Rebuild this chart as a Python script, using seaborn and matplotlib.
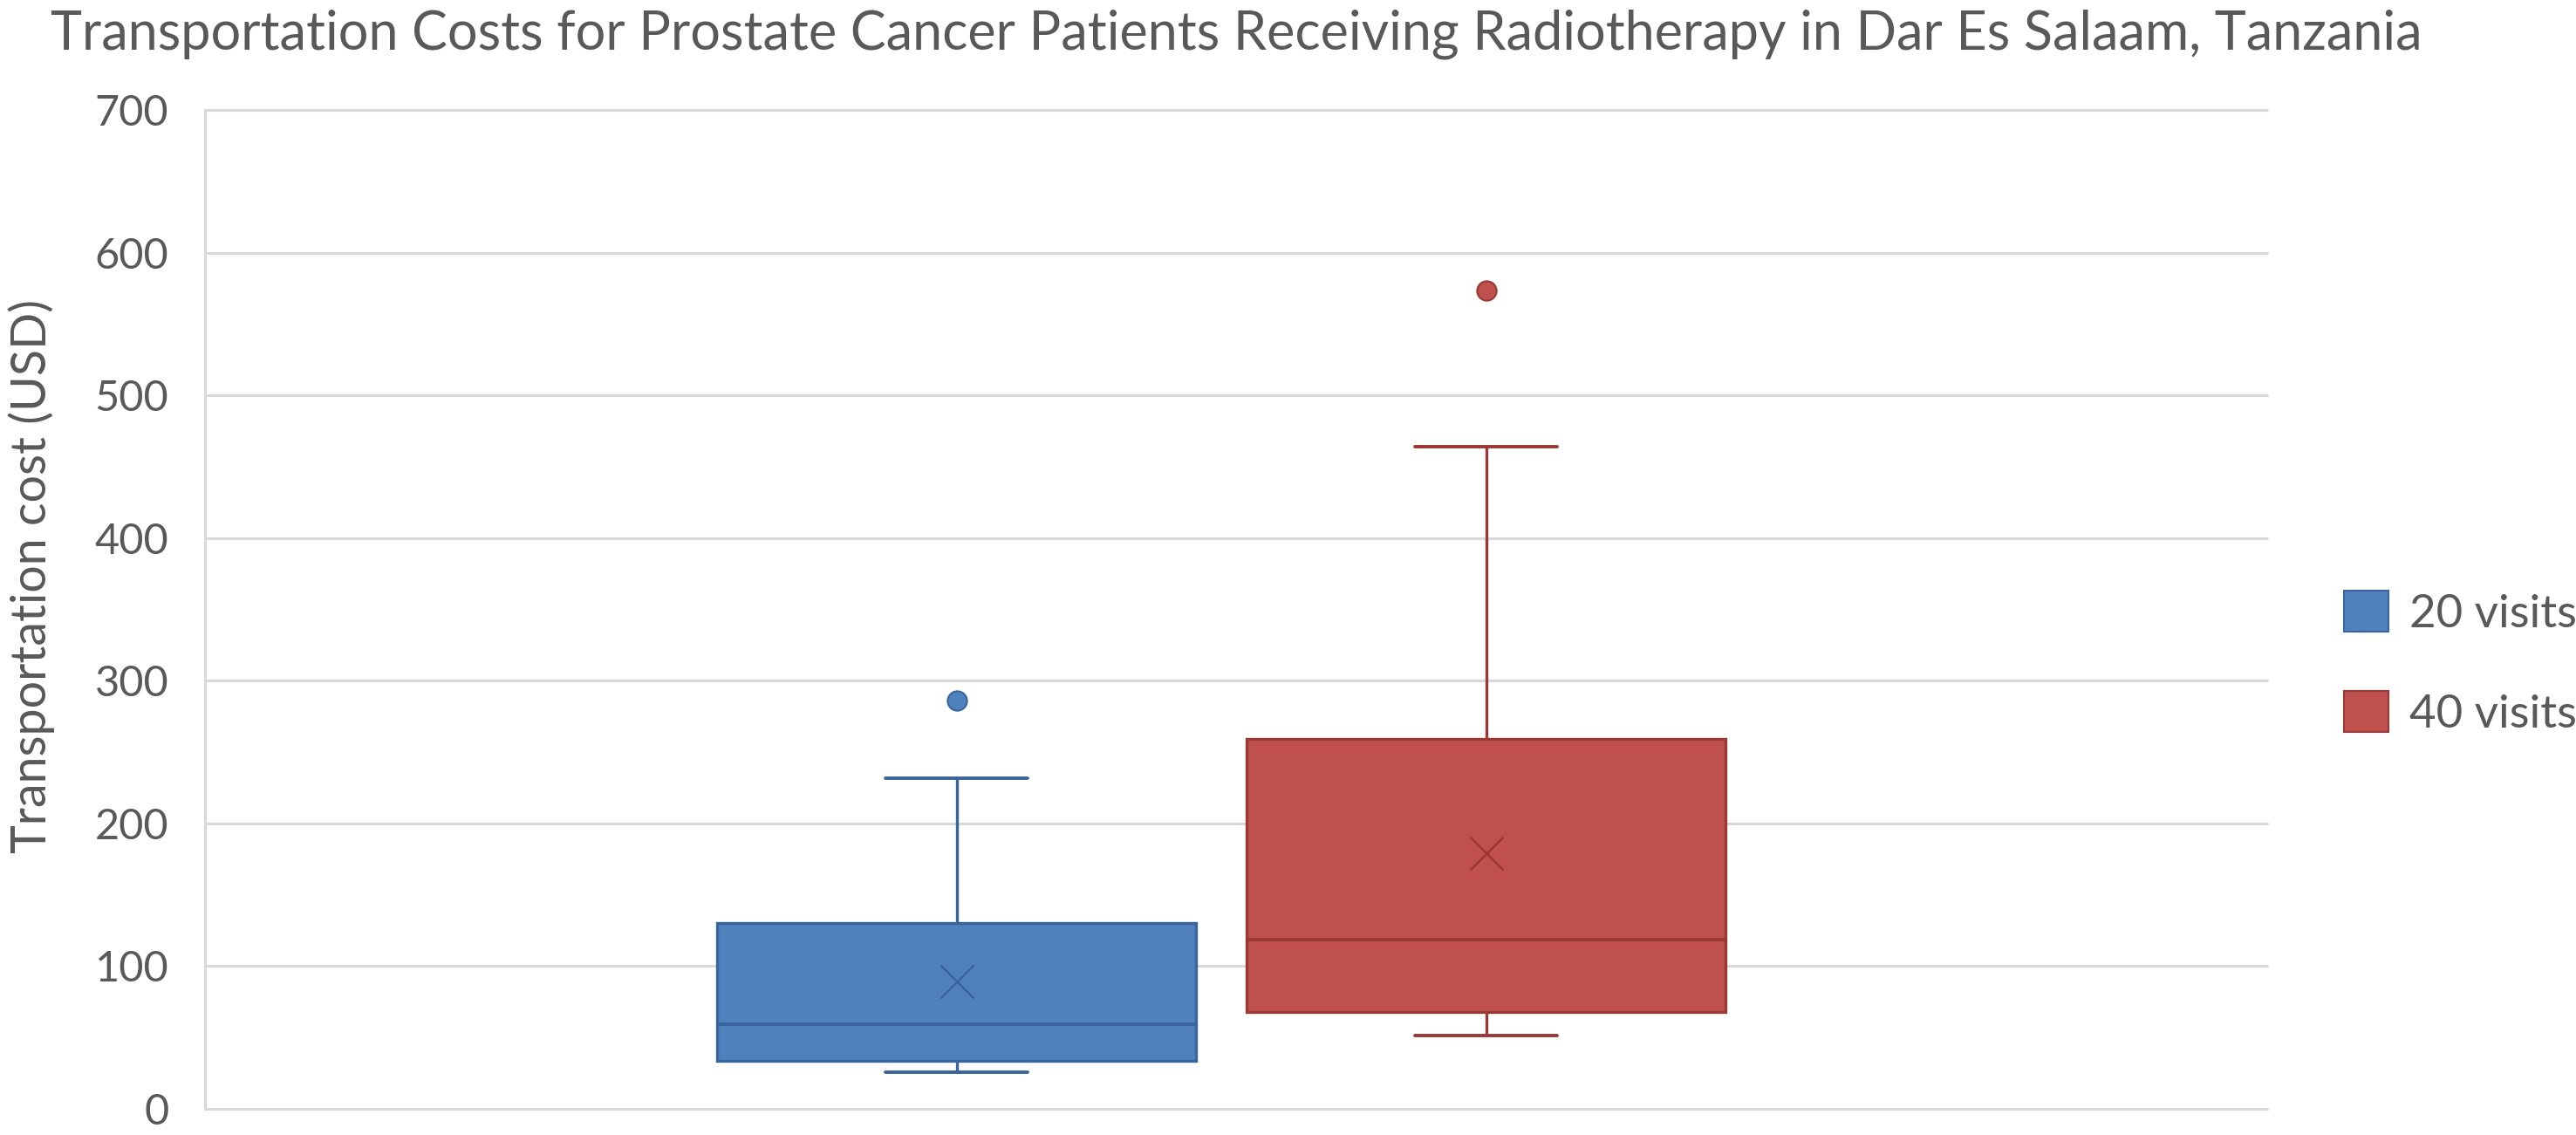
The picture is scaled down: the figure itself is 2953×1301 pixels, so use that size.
"""Box plot of transportation costs for prostate cancer patients (20 vs 40 radiotherapy visits)."""

import matplotlib
matplotlib.use("Agg")
import matplotlib.pyplot as plt
from matplotlib.patches import Patch
import seaborn as sns

# summary values (USD)
series_labels = ["20 visits", "40 visits"]
whisker_low = [25.7, 51.5]
q1 = [33.8, 67.9]
median = [59.1, 118.3]
q3 = [130.2, 259.0]
whisker_high = [232.0, 464.0]
means = [89.5, 179.0]
outliers = [[286.0], [573.5]]
y_ticks = [0, 100, 200, 300, 400, 500, 600, 700]

TITLE = "Transportation Costs for Prostate Cancer Patients Receiving Radiotherapy in Dar Es Salaam, Tanzania"
Y_LABEL = "Transportation cost (USD)"

FILL = ["#4F81BD", "#C0504D"]
EDGE = ["#3A659C", "#9A3835"]
TEXT = "#595959"
GRID = "#D9D9D9"

W, H = 2953, 1301
PLOT_TOP, PLOT_BOTTOM = 126, 1271


def main() -> None:
    sns.set_theme(style="whitegrid")
    plt.rcParams["font.family"] = ["Lato", "DejaVu Sans"]

    fig = plt.figure(figsize=(W / 100, H / 100), dpi=100)
    ax = fig.add_axes([235 / W, (H - PLOT_BOTTOM) / H, (2599 - 235) / W, (PLOT_BOTTOM - PLOT_TOP) / H])

    positions = [0.3646, 0.6213]
    for i, label in enumerate(series_labels):
        stats = [{
            "label": label,
            "whislo": whisker_low[i],
            "q1": q1[i],
            "med": median[i],
            "q3": q3[i],
            "whishi": whisker_high[i],
            "mean": means[i],
            "fliers": outliers[i],
        }]
        ax.bxp(
            stats,
            positions=[positions[i]],
            widths=[0.2322],
            capwidths=[0.069],
            showmeans=True,
            patch_artist=True,
            boxprops=dict(facecolor=FILL[i], edgecolor=EDGE[i], linewidth=2.4),
            medianprops=dict(color=EDGE[i], linewidth=2.8),
            whiskerprops=dict(color=EDGE[i], linewidth=2.4),
            capprops=dict(color=EDGE[i], linewidth=2.8),
            meanprops=dict(marker="x", markeredgecolor=EDGE[i], markersize=28, markeredgewidth=1.8),
            flierprops=dict(marker="o", markerfacecolor=FILL[i], markeredgecolor=EDGE[i],
                            markersize=16, markeredgewidth=1.5),
        )

    ax.set_xlim(0, 1)
    ax.set_ylim(0, 700)
    ax.set_xticks([])
    ax.set_yticks(y_ticks)
    ax.set_yticklabels([str(t) for t in y_ticks])
    ax.tick_params(axis="y", length=0, pad=30, labelsize=35, labelcolor=TEXT)
    ax.grid(axis="y", color=GRID, linewidth=2.2)
    ax.grid(axis="x", visible=False)
    for line in ax.get_ygridlines():
        line.set_clip_on(False)
    for side in ["top", "right", "bottom"]:
        ax.spines[side].set_visible(False)
    ax.spines["left"].set_color(GRID)
    ax.spines["left"].set_linewidth(2.2)
    ax.set_facecolor("white")
    ax.set_axisbelow(True)

    fig.text(1417 / W, 1 - 56 / H, TITLE, ha="center", va="baseline", fontsize=44, color=TEXT)
    fig.text(36 / W, 1 - 660 / H, Y_LABEL, ha="center", va="center", rotation=90, fontsize=40,
             color=TEXT)

    handles = [Patch(facecolor=FILL[i], edgecolor=EDGE[i], linewidth=1.5) for i in range(2)]
    fig.legend(handles, series_labels, loc="center left", bbox_to_anchor=(2687 / W, 1 - 760 / H),
               frameon=False, fontsize=38, labelcolor=TEXT, handlelength=0.97, handleheight=0.97,
               handletextpad=0.45, labelspacing=1.23, borderpad=0, borderaxespad=0)

    fig.savefig("out.png", dpi=100, facecolor="white")
    plt.close(fig)


if __name__ == "__main__":
    main()
